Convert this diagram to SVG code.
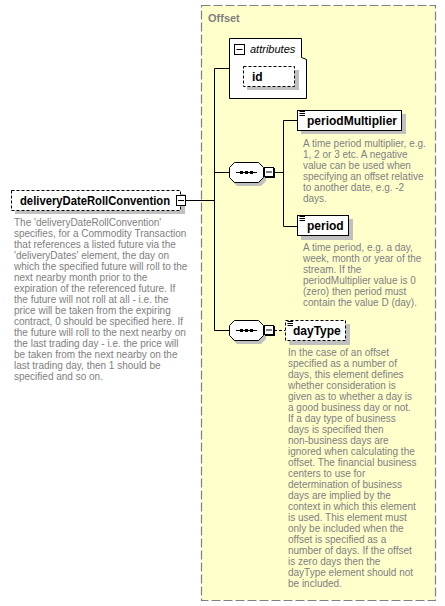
<svg xmlns="http://www.w3.org/2000/svg" width="445" height="606" viewBox="0 0 445 606">
<style>
.desc{font-family:"Liberation Sans",Arial,sans-serif;font-size:10px;fill:#808080}
.title{font-family:"Liberation Sans",Arial,sans-serif;font-size:12px;font-weight:bold;fill:#000}
.ln{stroke:#000;stroke-width:1;fill:none}
.box{fill:#fff;stroke:#000;stroke-width:1}
.dbox{fill:#fff;stroke:#000;stroke-width:1;stroke-dasharray:3,2}
.shadow{fill:#c0c0c0}
</style>
<rect width="445" height="606" fill="#fff"/>
<g id="offset">
<rect x="201.5" y="5.5" width="234" height="595" fill="#ffffcc" stroke="#808080" stroke-width="1.2" stroke-dasharray="9,3"/>
<text x="208" y="22" font-family="'Liberation Sans',Arial,sans-serif" font-size="11px" font-weight="bold" fill="#808080">Offset</text>
</g>
<g id="connectors">
<path class="ln" d="M186,200.5 H214.5"/>
<path class="ln" d="M214.5,68.5 V330.5"/>
<path class="ln" d="M214.5,68.5 H229"/>
<path class="ln" d="M214.5,172.5 H229"/>
<path class="ln" d="M214.5,330.5 H229"/>
<path class="ln" d="M274,172.5 H283.5 M283.5,120.5 V226.5 M283.5,120.5 H297 M283.5,226.5 H297"/>
<path class="ln" d="M274,330.5 H285" stroke-dasharray="3,2"/>
</g>
<g id="deliveryDateRollConvention">
<rect class="shadow" x="15" y="194" width="170" height="20"/>
<rect class="dbox" x="11.5" y="190.5" width="169" height="20"/>
<text class="title" x="20" y="205" textLength="150" lengthAdjust="spacingAndGlyphs">deliveryDateRollConvention</text>
<rect class="box" x="176.5" y="195.5" width="9" height="10"/>
<path class="ln" d="M178,200.5 H184"/>
<text class="desc">
<tspan x="14" y="226">The 'deliveryDateRollConvention'</tspan>
<tspan x="14" y="237">specifies, for a Commodity Transaction</tspan>
<tspan x="14" y="248">that references a listed future via the</tspan>
<tspan x="14" y="259">'deliveryDates' element, the day on</tspan>
<tspan x="14" y="270">which the specified future will roll to the</tspan>
<tspan x="14" y="281">next nearby month prior to the</tspan>
<tspan x="14" y="292">expiration of the referenced future. If</tspan>
<tspan x="14" y="303">the future will not roll at all - i.e. the</tspan>
<tspan x="14" y="314">price will be taken from the expiring</tspan>
<tspan x="14" y="325">contract, 0 should be specified here. If</tspan>
<tspan x="14" y="336">the future will roll to the next nearby on</tspan>
<tspan x="14" y="347">the last trading day - i.e. the price will</tspan>
<tspan x="14" y="358">be taken from the next nearby on the</tspan>
<tspan x="14" y="369">last trading day, then 1 should be</tspan>
<tspan x="14" y="380">specified and so on.</tspan>
</text>
</g>
<g id="attributes">
<path class="box" d="M229.5,38.5 H301.5 V57.5 L306.5,59.5 V98.5 H229.5 Z"/>
<rect class="box" x="234.5" y="44.5" width="10" height="10"/>
<path class="ln" d="M236.5,49.5 H242.5"/>
<text x="250" y="53" font-family="'Liberation Sans',Arial,sans-serif" font-size="11px" font-style="italic" fill="#000">attributes</text>
</g>
<g id="id">
<rect class="shadow" x="247" y="70" width="52" height="20"/>
<rect class="dbox" x="243.5" y="66.5" width="51" height="20"/>
<text class="title" x="252" y="81">id</text>
</g>
<g id="sequence1">
<polygon class="shadow" points="237,166 261,166 266,171 266,181 261,186 237,186 232,181 232,171"/>
<polygon class="box" points="234.5,162.5 258.5,162.5 263.5,167.5 263.5,177.5 258.5,182.5 234.5,182.5 229.5,177.5 229.5,167.5"/>
<path class="ln" d="M236,172.5 H257"/>
<rect x="240" y="171" width="3" height="3" fill="#000"/>
<rect x="245" y="171" width="3" height="3" fill="#000"/>
<rect x="250" y="171" width="3" height="3" fill="#000"/>
<rect x="265" y="168" width="10" height="10" fill="#000"/>
<rect class="box" x="264.5" y="167.5" width="9" height="9"/>
<path class="ln" d="M266,172 H272"/>
</g>
<g id="periodMultiplier">
<rect class="shadow" x="301" y="114" width="105" height="20"/>
<rect class="box" x="297.5" y="110.5" width="104" height="20"/>
<path class="ln" d="M299.5,111.5 H305 M299.5,113.5 H305 M299.5,115.5 H305"/>
<text class="title" x="307" y="125">periodMultiplier</text>
<text class="desc">
<tspan x="303" y="147">A time period multiplier, e.g.</tspan>
<tspan x="303" y="158">1, 2 or 3 etc. A negative</tspan>
<tspan x="303" y="169">value can be used when</tspan>
<tspan x="303" y="180">specifying an offset relative</tspan>
<tspan x="303" y="191">to another date, e.g. -2</tspan>
<tspan x="303" y="202">days.</tspan>
</text>
</g>
<g id="period">
<rect class="shadow" x="301" y="219" width="52" height="21"/>
<rect class="box" x="297.5" y="215.5" width="51" height="20"/>
<path class="ln" d="M299.5,216.5 H305 M299.5,218.5 H305 M299.5,220.5 H305"/>
<text class="title" x="307" y="230">period</text>
<text class="desc">
<tspan x="303" y="251">A time period, e.g. a day,</tspan>
<tspan x="303" y="262">week, month or year of the</tspan>
<tspan x="303" y="273">stream. If the</tspan>
<tspan x="303" y="284">periodMultiplier value is 0</tspan>
<tspan x="303" y="295">(zero) then period must</tspan>
<tspan x="303" y="306">contain the value D (day).</tspan>
</text>
</g>
<g id="sequence2">
<polygon class="shadow" points="237,324 261,324 266,329 266,339 261,344 237,344 232,339 232,329"/>
<polygon class="box" points="234.5,320.5 258.5,320.5 263.5,325.5 263.5,335.5 258.5,340.5 234.5,340.5 229.5,335.5 229.5,325.5"/>
<path class="ln" d="M236,330.5 H257"/>
<rect x="240" y="329" width="3" height="3" fill="#000"/>
<rect x="245" y="329" width="3" height="3" fill="#000"/>
<rect x="250" y="329" width="3" height="3" fill="#000"/>
<rect x="265" y="326" width="10" height="10" fill="#000"/>
<rect class="box" x="264.5" y="325.5" width="9" height="9"/>
<path class="ln" d="M266,330 H272"/>
</g>
<g id="dayType">
<rect class="shadow" x="289" y="324" width="61" height="21"/>
<rect class="dbox" x="285.5" y="320.5" width="60" height="20"/>
<path class="ln" d="M287.5,321.5 H293 M287.5,323.5 H293 M287.5,325.5 H293"/>
<text class="title" x="293" y="335">dayType</text>
<text class="desc">
<tspan x="288" y="356">In the case of an offset</tspan>
<tspan x="288" y="367">specified as a number of</tspan>
<tspan x="288" y="378">days, this element defines</tspan>
<tspan x="288" y="389">whether consideration is</tspan>
<tspan x="288" y="400">given as to whether a day is</tspan>
<tspan x="288" y="411">a good business day or not.</tspan>
<tspan x="288" y="422">If a day type of business</tspan>
<tspan x="288" y="433">days is specified then</tspan>
<tspan x="288" y="444">non-business days are</tspan>
<tspan x="288" y="455">ignored when calculating the</tspan>
<tspan x="288" y="466">offset. The financial business</tspan>
<tspan x="288" y="477">centers to use for</tspan>
<tspan x="288" y="488">determination of business</tspan>
<tspan x="288" y="499">days are implied by the</tspan>
<tspan x="288" y="510">context in which this element</tspan>
<tspan x="288" y="521">is used. This element must</tspan>
<tspan x="288" y="532">only be included when the</tspan>
<tspan x="288" y="543">offset is specified as a</tspan>
<tspan x="288" y="554">number of days. If the offset</tspan>
<tspan x="288" y="565">is zero days then the</tspan>
<tspan x="288" y="576">dayType element should not</tspan>
<tspan x="288" y="587">be included.</tspan>
</text>
</g>
</svg>
